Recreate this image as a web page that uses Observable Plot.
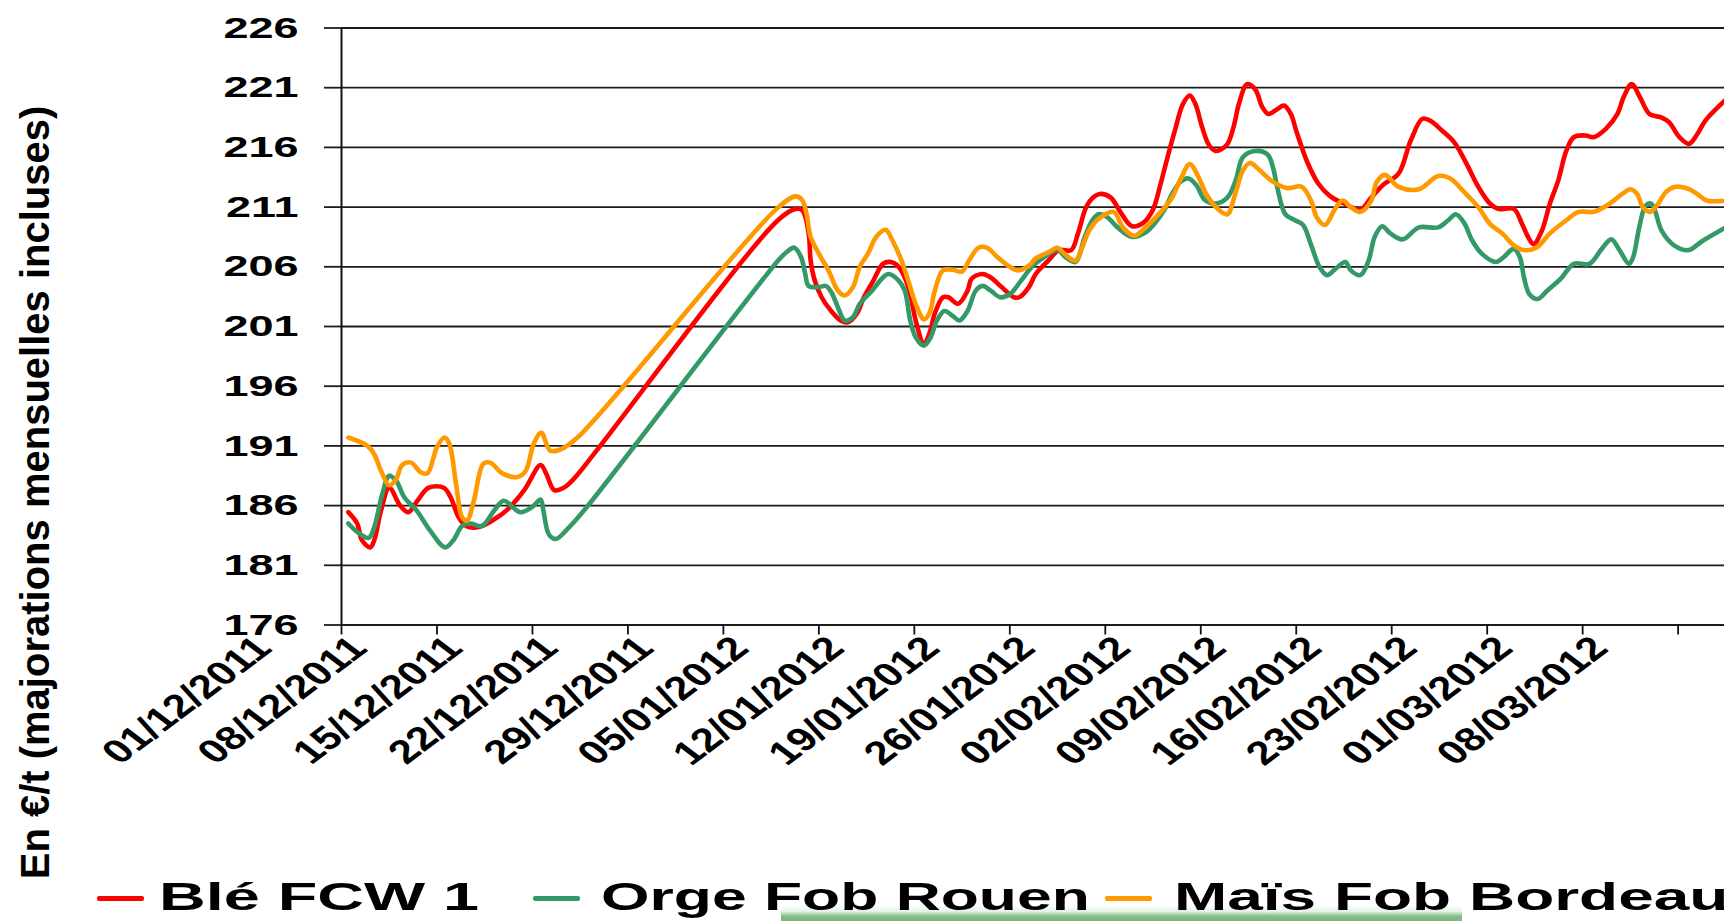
<!DOCTYPE html>
<html>
<head>
<meta charset="utf-8">
<script src="https://cdn.jsdelivr.net/npm/d3@7"></script>
<script src="https://cdn.jsdelivr.net/npm/@observablehq/plot@0.6"></script>
<style>
html, body { margin: 0; padding: 0; background: #ffffff; }
#wrap { position: relative; width: 1724px; height: 921px; overflow: hidden; background: #ffffff;
  font-family: "Liberation Sans", Arial, sans-serif; }
#wrap svg { position: absolute; left: 0; top: 0; }
.sw { position: absolute; height: 5px; border-radius: 2px; }
.lt { position: absolute; font-weight: bold; font-size: 39px; line-height: 39px; white-space: nowrap;
  color: #000; transform-origin: 0 0; }
#bar { position: absolute; left: 781px; top: 905px; width: 681px; height: 16px;
  background: linear-gradient(to bottom, rgba(235,247,235,0) 0%, #e4f2e4 40%, #9ccc9c 62%, #82b882 75%, #82b882 100%); }
</style>
</head>
<body>
<div id="wrap"></div>
<script>
// ---------- Données ----------
const tickLabels = ["01/12/2011","08/12/2011","15/12/2011","22/12/2011","29/12/2011","05/01/2012","12/01/2012",
  "19/01/2012","26/01/2012","02/02/2012","09/02/2012","16/02/2012","23/02/2012","01/03/2012","08/03/2012"];
const yTicks = [176, 181, 186, 191, 196, 201, 206, 211, 216, 221, 226];
const yTitle = "En €/t (majorations mensuelles incluses)";
const seriesNames = ["Blé FCW 1", "Orge Fob Rouen", "Maïs Fob Bordeaux"];
const seriesColors = ["#ff0000", "#339966", "#ff9900"];
const joursVisibles = 101.4; // jours depuis le 01/12/2011 visibles à droite

// jours depuis le 01/12/2011 et prix (€/t)
const bleJours = [0.5,1.15,1.5,2.1,2.4,2.9,3.5,4.3,4.9,5.5,6.4,7.5,8.0,8.6,9.2,10.2,11.4,12.1,13.4,14.6,15.0,15.6,16.3,17.0,18.7,
  32.0,33.3,33.8,34.25,34.4,34.7,35.2,35.9,36.6,37.1,37.8,38.3,39.0,39.7,40.3,40.85,41.3,41.7,42.1,42.7,43.1,43.5,44.1,44.5,45.2,45.9,46.2,47.0,47.6,48.4,49.3,49.7,50.4,50.9,51.8,52.6,53.5,54.0,54.6,55.1,55.6,56.4,57.1,57.95,58.8,59.5,60.0,60.5,61.1,61.7,62.2,62.6,63.1,63.6,64.1,64.9,65.4,65.8,66.4,67.0,67.5,67.95,68.6,69.1,69.6,70.0,70.8,71.6,72.5,73.5,74.7,75.5,76.4,77.5,78.4,79.25,79.8,80.7,81.6,82.5,83.35,84.2,84.8,85.95,86.55,87.0,87.4,88.0,88.6,89.2,89.8,90.35,91.2,91.8,92.7,93.55,94.0,94.6,95.2,95.9,96.8,97.35,98.1,98.8,99.4,100.0,101.5];
const bleValeurs = [185.45,184.5,183.1,182.5,183.1,185.6,187.5,186.0,185.45,186.3,187.5,187.5,186.7,185.0,184.25,184.25,185.0,185.6,187.3,189.4,188.7,187.3,187.5,188.2,190.6,
  209.9,210.85,210.7,208.8,206.5,204.85,203.45,202.3,201.5,201.35,202.1,203.45,204.85,206.25,206.4,206.0,205.1,203.7,201.5,199.55,200.4,202.1,203.45,203.45,202.9,204.0,205.0,205.4,205.1,204.3,203.45,203.45,204.3,205.4,206.5,207.4,207.4,208.8,211.0,211.8,212.1,211.8,210.6,209.4,209.7,210.8,212.7,214.9,217.4,219.65,220.35,219.65,217.7,216.2,215.7,216.2,217.7,219.65,221.3,220.85,219.4,218.8,219.2,219.5,218.8,217.4,214.8,213.0,211.9,211.3,210.8,211.8,212.9,213.8,216.6,218.4,218.25,217.4,216.4,214.6,212.7,211.3,210.85,210.85,209.6,208.5,207.9,209.0,211.3,213.2,215.7,216.85,217.0,216.85,217.55,218.8,220.2,221.3,220.2,218.8,218.5,218.1,216.85,216.3,217.1,218.25,220.0];

const orgeJours = [0.5,1.15,2.0,2.4,3.0,3.5,4.0,4.6,5.5,6.5,7.6,8.2,8.85,9.45,10.3,11.2,11.9,13.1,14.0,14.6,14.8,15.2,15.7,16.7,18.0,
  32.0,32.6,33.2,33.7,34.0,34.25,35.0,35.5,35.9,36.4,36.9,37.5,38.0,38.9,39.7,40.1,40.85,41.3,41.7,42.1,42.7,43.2,43.65,44.2,44.8,45.3,45.9,46.5,47.0,47.6,48.3,49.0,49.8,50.7,51.5,52.5,53.1,53.8,54.5,55.0,55.5,56.1,56.9,57.95,59.0,59.6,60.3,60.9,61.5,62.1,62.7,63.3,64.1,64.95,65.55,66.1,67.0,67.9,68.3,68.6,69.2,69.9,70.5,71.1,71.7,72.25,72.85,73.6,74.0,74.7,75.3,75.75,76.3,76.9,77.8,79.0,80.4,81.15,81.7,82.3,82.9,83.6,84.65,85.2,85.95,86.4,86.7,87.1,87.7,88.4,89.4,90.35,91.5,92.4,93.1,93.7,94.4,94.7,95.15,95.6,96.0,96.3,96.8,97.7,98.8,99.7,101.5];
const orgeValeurs = [184.5,183.8,183.3,184.2,187.0,188.5,188.1,186.7,185.6,183.9,182.5,183.1,184.3,184.5,184.3,185.6,186.4,185.45,185.9,186.5,185.6,183.6,183.2,184.2,185.9,
  206.5,207.2,207.6,206.8,205.4,204.4,204.3,204.4,203.9,202.6,201.5,201.8,202.9,204.0,205.1,205.4,204.85,204.0,201.5,200.1,199.4,200.1,201.5,202.3,201.9,201.5,202.3,204.0,204.4,204.0,203.45,203.7,204.8,206.1,206.8,207.4,206.8,206.4,208.5,209.8,210.4,210.2,209.3,208.5,208.9,209.6,210.7,212.1,213.1,213.4,212.8,211.6,211.3,211.8,213.2,215.2,215.7,215.4,214.3,212.7,210.4,209.9,209.5,207.8,206.0,205.3,205.8,206.4,205.7,205.3,206.5,208.5,209.4,208.8,208.3,209.3,209.3,209.9,210.4,209.7,208.2,207.1,206.4,206.8,207.5,206.8,205.1,203.7,203.3,204.0,205.0,206.25,206.25,207.5,208.3,207.4,206.25,206.8,209.3,211.1,211.3,210.7,209.0,207.8,207.4,208.1,209.3];

const maisJours = [0.5,1.9,2.4,2.9,3.5,4.0,4.45,5.1,5.8,6.3,7.0,7.55,7.9,8.4,8.85,9.2,9.7,10.4,10.9,11.8,12.9,13.5,14.1,14.65,15.3,16.05,17.3,
  31.9,33.3,33.8,34.1,34.4,35.1,35.7,36.4,36.9,37.5,38.0,38.6,39.2,39.9,40.4,41.0,41.55,42.1,42.7,43.1,43.5,44.1,44.8,45.5,46.0,46.7,47.3,48.1,49.0,49.6,50.4,50.9,51.8,52.5,53.0,53.8,54.3,54.8,55.5,56.6,57.3,58.1,59.05,60.3,60.9,61.5,62.2,62.8,63.4,64.2,64.95,65.5,66.1,66.6,67.3,68.2,69.3,70.4,71.1,71.5,72.1,72.85,73.4,74.0,74.7,75.5,75.9,76.5,77.5,79.0,80.4,81.3,82.2,83.35,84.2,85.1,85.95,86.7,87.6,88.6,89.8,90.7,91.8,93.0,93.9,94.5,95.0,95.4,95.95,96.55,97.1,97.8,98.8,99.4,100.1,101.5];
const maisValeurs = [191.7,191.0,190.3,188.9,187.7,188.2,189.4,189.6,188.8,188.7,190.9,191.7,191.2,187.8,185.0,184.75,186.4,189.5,189.6,188.7,188.4,188.9,191.2,192.1,190.6,190.7,191.7,
  210.85,211.9,211.55,210.4,208.5,206.9,205.7,204.0,203.6,204.3,206.0,207.1,208.5,209.1,208.2,206.7,204.85,202.9,201.6,202.1,204.0,205.7,205.75,205.6,206.5,207.6,207.6,206.8,206.0,205.7,206.1,206.7,207.2,207.6,207.1,206.5,207.6,209.0,210.0,210.6,209.3,208.6,209.4,210.9,211.8,213.3,214.6,213.6,212.1,210.9,210.4,212.0,214.1,214.7,214.1,213.2,212.6,212.7,211.5,210.15,209.5,210.85,211.55,211.0,210.6,211.55,213.1,213.7,212.7,212.5,213.6,213.4,212.4,211.0,209.6,208.8,207.8,207.4,207.6,208.8,209.9,210.6,210.6,211.3,212.1,212.5,212.1,211.0,210.6,211.3,212.25,212.7,212.5,212.1,211.55,211.55];

// ---------- Construction ----------
const debut = Date.UTC(2011, 11, 1);
const versDate = j => new Date(debut + j * 864e5);
const parseFr = s => { const [d, m, y] = s.split("/").map(Number); return new Date(Date.UTC(y, m - 1, d)); };
const tickDates = tickLabels.map(parseFr);
const serie = (jours, vals) => jours.map((j, i) => ({date: versDate(j), valeur: vals[i]}));
const donnees = [serie(bleJours, bleValeurs), serie(orgeJours, orgeValeurs), serie(maisJours, maisValeurs)];

const W = 1724, H = 860;
const font = "Liberation Sans, Arial, sans-serif";
const plot = Plot.plot({
  width: W, height: H,
  marginTop: 27.5, marginBottom: H - 624.5, marginLeft: 341, marginRight: 0,
  x: {type: "utc", domain: [versDate(0), versDate(joursVisibles)]},
  y: {domain: [yTicks[0], yTicks[yTicks.length - 1]]},
  style: {fontFamily: font, background: "transparent", overflow: "visible", color: "black"},
  marks: [
    Plot.gridY(yTicks, {stroke: "#1c1c1c", strokeOpacity: 1, strokeWidth: 1.8}),
    Plot.axisY(yTicks, {tickSize: 17, tickFormat: () => "", label: null, stroke: "#1c1c1c", strokeWidth: 1.8}),
    Plot.axisX(tickDates, {tickSize: 10, tickFormat: () => "", label: null, stroke: "#111", strokeWidth: 1.8}),
    Plot.ruleX([versDate(0)], {y1: yTicks[0], y2: yTicks[yTicks.length - 1], stroke: "#111", strokeWidth: 2}),
    ...donnees.map((d, i) => Plot.line(d, {x: "date", y: "valeur", stroke: seriesColors[i], strokeWidth: 4.6,
      curve: "catmull-rom", strokeLinejoin: "round", strokeLinecap: "round", clip: true})),
    // 0 : libellés de l'axe Y
    Plot.text(yTicks, {y: d => d, text: d => String(d), frameAnchor: "left", dx: -43, textAnchor: "end",
      fontSize: 30, fontWeight: "bold", fill: "black"}),
    // 1 : libellés de l'axe X
    Plot.text(tickDates, {x: d => d, text: (d, i) => tickLabels[i], frameAnchor: "bottom", dx: -68, dy: 25,
      rotate: -45, textAnchor: "end", fontSize: 33, fontWeight: "bold", fill: "black"}),
    // 2 : titre de l'axe Y
    Plot.text([yTitle], {frameAnchor: "left", dx: -305, dy: 166, rotate: -90, textAnchor: "middle",
      fontSize: 40, fontWeight: "bold", fill: "black"})
  ]
});

// étirement horizontal des libellés (aspect du graphique d'origine)
function etirer(group, k) {
  d3.select(group).selectAll("text").each(function () {
    const t = d3.select(this);
    const tr = t.attr("transform");
    if (tr) {
      if (/rotate\(/.test(tr)) t.attr("transform", tr.replace(/rotate\(/, `scale(${k},1) rotate(`));
      else t.attr("transform", tr + ` scale(${k},1)`);
    } else {
      const x = +t.attr("x") || 0, y = +t.attr("y") || 0;
      t.attr("transform", `translate(${x},${y}) scale(${k},1) translate(${-x},${-y})`);
    }
  });
}
const groupesTexte = plot.querySelectorAll('g[aria-label="text"]');
etirer(groupesTexte[0], 1.5);
etirer(groupesTexte[1], 1.33);

const wrap = document.getElementById("wrap");
wrap.appendChild(plot);

// ---------- Légende ----------
const bar = document.createElement("div");
bar.id = "bar";
wrap.appendChild(bar);
const legendeSwatchX = [97, 533, 1105];
const legendeTexteX = [159, 601, 1174];
const legendeEtirement = [1.66, 1.6, 1.64];
seriesNames.forEach((name, i) => {
  const sw = document.createElement("div");
  sw.className = "sw";
  sw.style.left = legendeSwatchX[i] + "px";
  sw.style.top = "896px";
  sw.style.width = "47px";
  sw.style.background = seriesColors[i];
  wrap.appendChild(sw);
  const tx = document.createElement("div");
  tx.className = "lt";
  tx.textContent = name;
  tx.style.left = legendeTexteX[i] + "px";
  tx.style.top = (912 - 35.3) + "px";
  tx.style.transform = `scaleX(${legendeEtirement[i]})`;
  wrap.appendChild(tx);
});
</script>
</body>
</html>
